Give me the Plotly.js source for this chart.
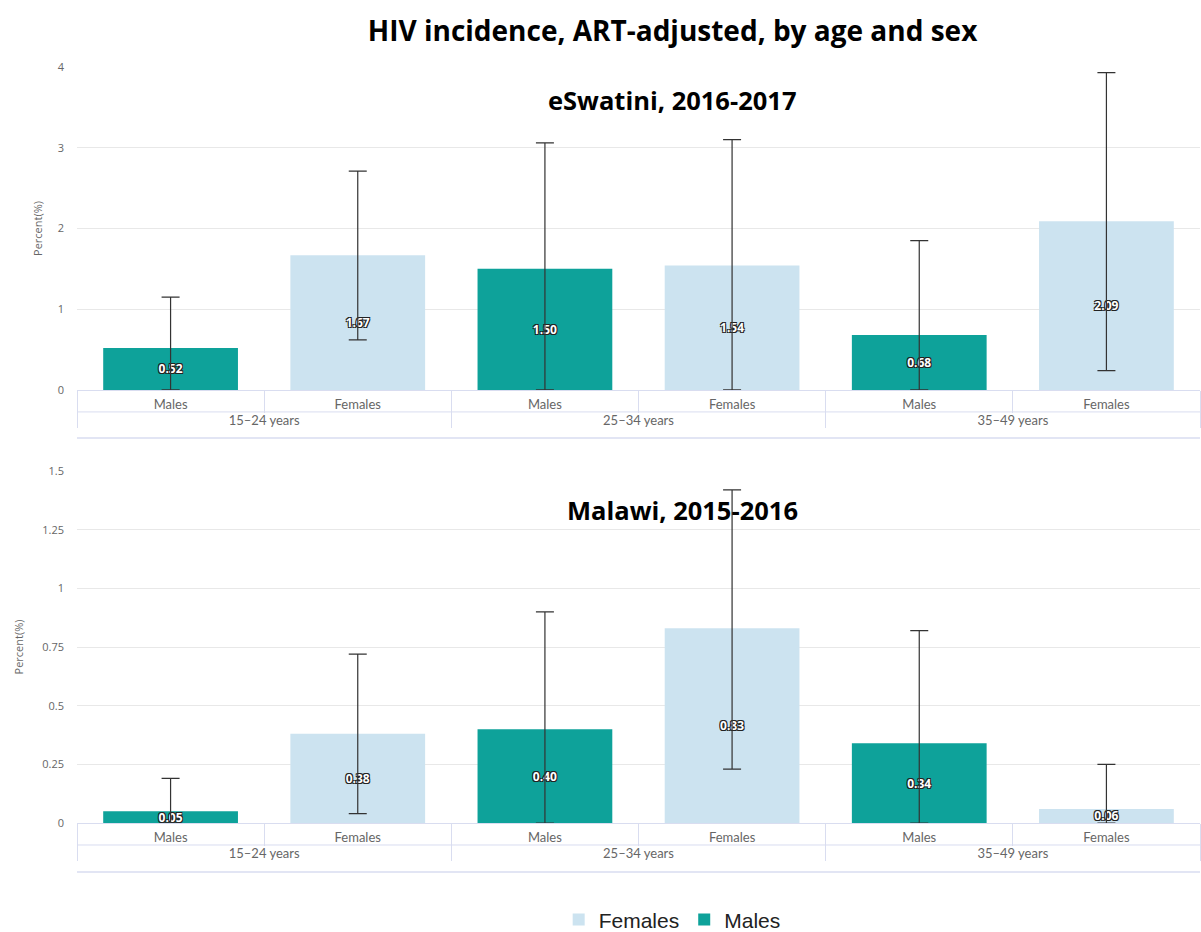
<!DOCTYPE html>
<html>
<head>
<meta charset="utf-8">
<script src="https://cdn.plot.ly/plotly-3.0.1.min.js"></script>
<style>
  body { margin: 0; background: #fff; }
  #chart { width: 1201px; height: 932px; }
</style>
</head>
<body>
<div id="chart"></div>
<script>
// age groups on the outer axis row
var ageGroups = ["15–24 years", "25–34 years", "35–49 years"];

// eSwatini 2016-2017
var swzMales = [0.52, 1.50, 0.68];
var swzMalesUpper = [1.15, 3.06, 1.85];
var swzMalesLower = [0, 0, 0];
var swzFemales = [1.67, 1.54, 2.09];
var swzFemalesUpper = [2.71, 3.10, 3.93];
var swzFemalesLower = [0.62, 0, 0.24];

// Malawi 2015-2016
var mwiMales = [0.05, 0.40, 0.34];
var mwiMalesUpper = [0.19, 0.90, 0.82];
var mwiMalesLower = [0, 0, 0];
var mwiFemales = [0.38, 0.83, 0.06];
var mwiFemalesUpper = [0.72, 1.42, 0.25];
var mwiFemalesLower = [0.04, 0.23, 0];

var maleColor = "#0ea29a";
var femaleColor = "#cce3f0";

function barTrace(name, sex, vals, upper, lower, color, xa, ya, showLegend, rank) {
  return {
    type: "bar",
    name: name,
    x: [ageGroups, ageGroups.map(function () { return sex; })],
    y: vals,
    xaxis: xa,
    yaxis: ya,
    marker: { color: color },
    text: vals.map(function (v) { return v.toFixed(2); }),
    textposition: "inside",
    insidetextanchor: "middle",
    constraintext: "none",
    textangle: 0,
    textfont: {
      family: "Open Sans", size: 12, color: "#ffffff", weight: 700,
      shadow: "1px 1px 0 #222, -1px -1px 0 #222, 1px -1px 0 #222, -1px 1px 0 #222"
    },
    error_y: {
      type: "data",
      symmetric: false,
      array: upper.map(function (u, i) { return u - vals[i]; }),
      arrayminus: lower.map(function (l, i) { return vals[i] - l; }),
      color: "#333333",
      thickness: 1.2,
      width: 9
    },
    showlegend: showLegend,
    legendgroup: name,
    legendrank: rank,
    hoverinfo: "y"
  };
}

// males first so they take the left slot in each age group
var data = [
  barTrace("Males", "Males", swzMales, swzMalesUpper, swzMalesLower, maleColor, "x", "y", true, 2),
  barTrace("Females", "Females", swzFemales, swzFemalesUpper, swzFemalesLower, femaleColor, "x", "y", true, 1),
  barTrace("Males", "Males", mwiMales, mwiMalesUpper, mwiMalesLower, maleColor, "x2", "y2", false, 2),
  barTrace("Females", "Females", mwiFemales, mwiFemalesUpper, mwiFemalesLower, femaleColor, "x2", "y2", false, 1)
];

var tableColor = "#d9ddf0";

function xAxis(anchor) {
  return {
    type: "multicategory",
    anchor: anchor,
    domain: [0, 1],
    showline: true,
    linecolor: tableColor,
    linewidth: 1,
    showgrid: false,
    ticks: "outside",
    tickson: "boundaries",
    ticklen: 22,
    tickcolor: tableColor,
    ticklabelstandoff: 2,
    showdividers: true,
    dividercolor: tableColor,
    dividerwidth: 1,
    tickfont: { family: "Lato", size: 13, color: "#666666" },
    fixedrange: true
  };
}

function yAxis(domain, range, dtick, anchor, standoff) {
  return {
    domain: domain,
    anchor: anchor,
    range: range,
    dtick: dtick,
    showgrid: true,
    gridcolor: "#e8e8e8",
    zeroline: false,
    showline: false,
    ticks: "",
    ticklabelstandoff: 12,
    tickfont: { family: "Open Sans", size: 11, color: "#666666" },
    title: { text: "Percent(%)", font: { family: "Open Sans", size: 11, color: "#666666" }, standoff: standoff },
    fixedrange: true
  };
}

// horizontal table lines under each axis
var shapes = [
  { type: "line", xref: "paper", yref: "y domain", x0: 0, x1: 1, y0: -0.068, y1: -0.068, line: { color: tableColor, width: 1 } },
  { type: "line", xref: "paper", yref: "y domain", x0: 0, x1: 1, y0: -0.1486, y1: -0.1486, line: { color: tableColor, width: 1.5 } },
  { type: "line", xref: "paper", yref: "y2 domain", x0: 0, x1: 1, y0: -0.0625, y1: -0.0625, line: { color: tableColor, width: 1 } },
  { type: "line", xref: "paper", yref: "y2 domain", x0: 0, x1: 1, y0: -0.139, y1: -0.139, line: { color: tableColor, width: 1.5 } }
];

var layout = {
  width: 1201,
  height: 932,
  margin: { l: 77, r: 1, t: 67, b: 109, autoexpand: false },
  paper_bgcolor: "#ffffff",
  plot_bgcolor: "#ffffff",
  barmode: "overlay",
  bargap: 0.28,
  title: {
    text: "<b>HIV incidence, ART-adjusted, by age and sex</b>",
    font: { family: "Open Sans", size: 28, color: "#000000" },
    x: 0.56, xanchor: "center",
    y: 0.966, yanchor: "middle", yref: "container"
  },
  xaxis: xAxis("y"),
  yaxis: yAxis([0.5728, 1], [0, 4], 1, "x", 12),
  xaxis2: xAxis("y2"),
  yaxis2: yAxis([0, 0.4656], [0, 1.5], 0.25, "x2", 16),
  annotations: [
    { text: "<b>eSwatini, 2016-2017</b>", xref: "paper", yref: "paper", x: 0.53, y: 0.9563,
      showarrow: false, xanchor: "center", yanchor: "middle",
      font: { family: "Open Sans", size: 25.5, color: "#000000" } },
    { text: "<b>Malawi, 2015-2016</b>", xref: "paper", yref: "paper", x: 0.539, y: 0.414,
      showarrow: false, xanchor: "center", yanchor: "middle",
      font: { family: "Open Sans", size: 25.5, color: "#000000" } }
  ],
  shapes: shapes,
  legend: {
    orientation: "h",
    x: 0.53, xanchor: "center",
    y: -0.128, yanchor: "middle",
    font: { family: "Liberation Sans", size: 21, color: "#222222" }
  },
  showlegend: true
};

Plotly.newPlot("chart", data, layout, { displayModeBar: false, staticPlot: true });
</script>
</body>
</html>
